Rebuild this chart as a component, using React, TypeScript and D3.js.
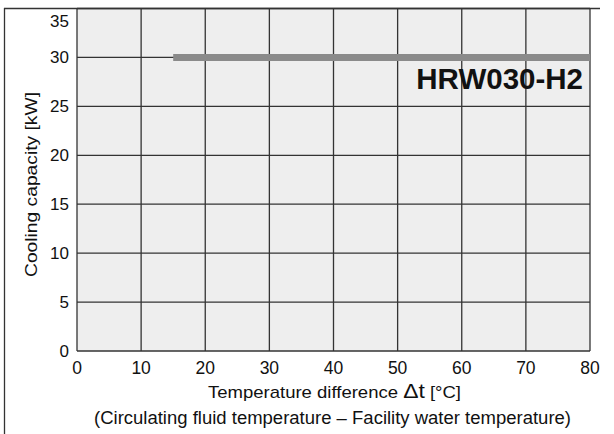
import React from "react";
import * as d3 from "d3";

const xTicks = [0, 10, 20, 30, 40, 50, 60, 70, 80];
const yTicks = [0, 5, 10, 15, 20, 25, 30, 35];
const seriesX = [15, 80];
const seriesY = [30, 30];
const modelLabel = "HRW030-H2";
const xTitleA = "Temperature difference ";
const xTitleDelta = "\u0394t";
const xTitleB = " [\u00B0C]";
const xTitle2 = "(Circulating fluid temperature \u2013 Facility water temperature)";
const yTitle = "Cooling capacity [kW]";

export default function App() {
  const W = 614, H = 434;
  const left = 77, right = 590, top = 8.5, bottom = 351;
  const x = d3.scaleLinear().domain([0, 80]).range([left, right]);
  const y = d3.scaleLinear().domain([0, 35]).range([bottom, top]);
  const line = d3.line<number>().x((_, i) => x(seriesX[i])).y((d) => y(d));
  const font = "'Liberation Sans', Arial, Helvetica, sans-serif";
  return (
    <svg width={W} height={H} style={{ position: "absolute", left: 0, top: 0 }} fontFamily={font}>
      <rect x={0} y={0} width={W} height={H} fill="#fff" />
      <rect x={left} y={top} width={right - left} height={bottom - top} fill="#eeeeee" />
      {xTicks.map((t) => (
        <line key={"gx" + t} x1={x(t)} x2={x(t)} y1={top} y2={bottom} stroke="#333" strokeWidth={1.3} />
      ))}
      {yTicks.map((t) => (
        <line key={"gy" + t} x1={left} x2={right} y1={y(t)} y2={y(t)} stroke="#333" strokeWidth={1.3} />
      ))}
      <line x1={4.5} x2={4.5} y1={8} y2={H} stroke="#333" strokeWidth={1.3} />
      <line x1={4} x2={600} y1={8.5} y2={8.5} stroke="#333" strokeWidth={1.3} />
      <path d={line(seriesY) || ""} stroke="#8a8a8a" strokeWidth={7} fill="none" />
      <text x={583} y={89} textAnchor="end" fontSize={29.5} fontWeight="bold" fill="#111">{modelLabel}</text>
      {yTicks.map((t) => (
        <text key={"ty" + t} x={69} y={Math.max(y(t) + 6, 27)} textAnchor="end" fontSize={17} fill="#111">{t}</text>
      ))}
      {xTicks.map((t) => (
        <text key={"tx" + t} x={x(t)} y={374} textAnchor="middle" fontSize={17.5} fill="#111">{t}</text>
      ))}
      <text x={334.5} y={398} textAnchor="middle" fontSize={17} fill="#111" textLength={253} lengthAdjust="spacingAndGlyphs">
        {xTitleA}<tspan fontSize={21}>{xTitleDelta}</tspan>{xTitleB}
      </text>
      <text x={332.5} y={424} textAnchor="middle" fontSize={17.5} fill="#111" textLength={477} lengthAdjust="spacingAndGlyphs">{xTitle2}</text>
      <text transform={`translate(37, 184.5) rotate(-90)`} textAnchor="middle" fontSize={17} fill="#111" textLength={185} lengthAdjust="spacingAndGlyphs">{yTitle}</text>
    </svg>
  );
}
